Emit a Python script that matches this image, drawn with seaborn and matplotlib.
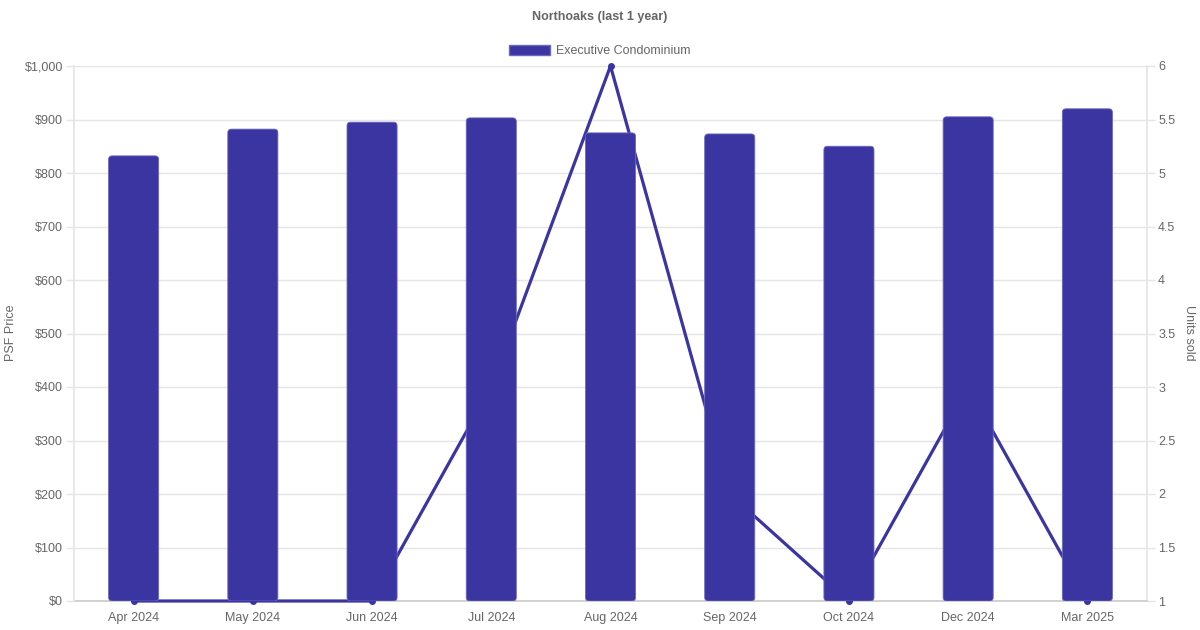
import matplotlib
matplotlib.use("Agg")
import matplotlib.pyplot as plt
from matplotlib.patches import FancyBboxPatch, Patch
from matplotlib.ticker import FuncFormatter, MultipleLocator
import pandas as pd
import seaborn as sns

# Values
months = ["Apr 2024", "May 2024", "Jun 2024", "Jul 2024", "Aug 2024",
          "Sep 2024", "Oct 2024", "Dec 2024", "Mar 2025"]
psf_price = [832, 882, 895, 903, 875, 873, 850, 905, 920]
units_sold = [1, 1, 1, 3, 6, 2, 1, 3, 1]
series_name = "Executive Condominium"

bar_color = "#3a35a0"
text_color = "#666666"
grid_color = "#e5e5e5"

df = pd.DataFrame({"month": months, "psf": psf_price, "units": units_sold})

sns.set_theme(style="white")
plt.rcParams["font.family"] = ["Liberation Sans", "DejaVu Sans"]

fig = plt.figure(figsize=(12, 6.3), dpi=100)
ax = fig.add_axes([74 / 1200, 1 - 601 / 630, (1147 - 74) / 1200, (601 - 66) / 630])
ax2 = ax.twinx()

# line sits behind the bars, so the bar axes goes on top
ax.set_zorder(ax2.get_zorder() + 1)
ax.patch.set_visible(False)

# units sold line (right axis)
sns.lineplot(data=df, x="month", y="units", ax=ax2, color=bar_color,
             linewidth=2.3, marker="o", markersize=5, markeredgewidth=0,
             sort=False)
for ln in ax2.lines:
    ln.set_clip_on(False)
    ln.set_zorder(3)
ax2.set_ylim(1, 6)
ax2.yaxis.set_major_locator(MultipleLocator(0.5))
ax2.yaxis.set_major_formatter(FuncFormatter(lambda v, p: f"{v:g}"))
ax2.grid(True, axis="y", color=grid_color, linewidth=1)
ax2.set_ylabel("")

# psf price bars (left axis)
sns.barplot(data=df, x="month", y="psf", ax=ax, color=bar_color, width=0.42,
            saturation=1)
ax.set_xlim(-0.5, len(months) - 0.5)
ax.set_ylim(0, 1000)
ax.yaxis.set_major_locator(MultipleLocator(100))
ax.yaxis.set_major_formatter(FuncFormatter(lambda v, p: f"${v:,.0f}"))
ax.set_xlabel("")
ax.set_ylabel("")

# swap square bars for slightly rounded ones
aspect = (1000 / 535) / (len(months) / 1073)
for bar in list(ax.patches):
    x0, w, h = bar.get_x(), bar.get_width(), bar.get_height()
    bar.remove()
    ax.add_patch(FancyBboxPatch((x0, 0), w, h,
                                boxstyle="round,pad=0,rounding_size=0.03",
                                mutation_aspect=aspect, facecolor=bar_color,
                                edgecolor="#6c68c0", linewidth=0.6))

for a in (ax, ax2):
    a.spines["top"].set_visible(False)
    for s in a.spines.values():
        s.set_color(grid_color)
    a.tick_params(colors=text_color, labelsize=9, length=6, width=1,
                  color=grid_color)
ax.spines["right"].set_visible(False)
ax.spines["bottom"].set_visible(False)
ax2.spines["left"].set_visible(False)
ax2.spines["bottom"].set_color("#cccccc")
ax.tick_params(axis="x", length=0, pad=8)
ax.tick_params(axis="y", pad=2)
ax2.tick_params(axis="y", pad=2)

fig.text(11 / 1200, 1 - 333 / 630, "PSF Price", rotation=90, ha="center",
         va="center", fontsize=9, color=text_color)
fig.text(1189 / 1200, 1 - 333 / 630, "Units sold", rotation=-90, ha="center",
         va="center", fontsize=9, color=text_color)
fig.text(0.5, 1 - 17 / 630, "Northoaks (last 1 year)", ha="center", va="center",
         fontsize=9, fontweight="bold", color=text_color)
fig.legend(handles=[Patch(facecolor=bar_color, edgecolor="#6c68c0", label=series_name)],
           loc="center", bbox_to_anchor=(0.5, 1 - 51 / 630), frameon=False,
           handlelength=3.3, handleheight=0.9, handletextpad=0.5,
           fontsize=9, labelcolor=text_color)

fig.savefig("out.png", dpi=100)
